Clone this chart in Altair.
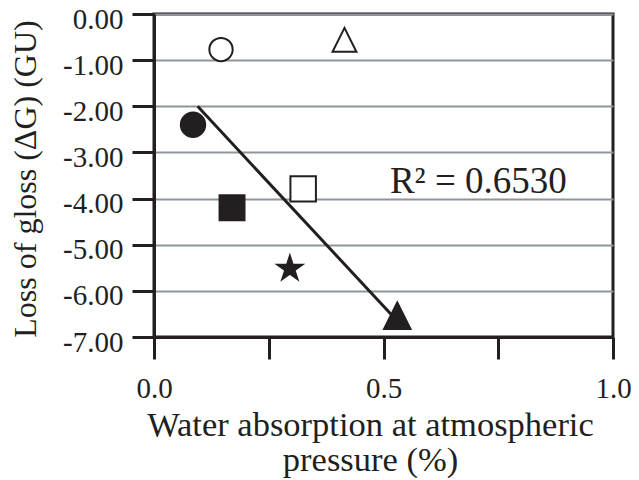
import altair as alt
import pandas as pd

# ---- data ----
markers = ["open circle", "open triangle", "filled circle", "filled square",
           "open square", "star", "filled triangle"]
absorption = [0.146, 0.415, 0.085, 0.170, 0.325, 0.296, 0.530]
gloss_loss = [-0.77, -0.56, -2.40, -4.20, -3.79, -5.52, -6.54]

fit_x = [0.095, 0.525]
fit_y = [-2.00, -6.60]

r2_label = ["R² = 0.6530"]
r2_x = [0.514]
r2_y = [-3.873]

x_ticks = [0.0, 0.25, 0.5, 0.75, 1.0]
y_ticks = [0, -1, -2, -3, -4, -5, -6, -7]

# ---- styles ----
INK = "#231f20"
GRID = "#8f9699"
FONT = "Liberation Serif"

TRI = "M0,-1L1,1L-1,1Z"
STAR = ("M0,-1L0.225,-0.309L0.951,-0.309L0.363,0.118L0.588,0.809L0,0.382"
        "L-0.588,0.809L-0.363,0.118L-0.951,-0.309L-0.225,-0.309Z")
shape_range = ["circle", TRI, "circle", "square", "square", STAR, TRI]
fill_range = ["white", "white", INK, INK, "white", INK, INK]
size_range = [543, 702, 603, 767, 640, 930, 784]
sw_range = [2, 2, 0, 0, 2, 0, 0]

pts = pd.DataFrame({"marker": markers, "x": absorption, "y": gloss_loss})
fit = pd.DataFrame({"x": fit_x, "y": fit_y})
r2 = pd.DataFrame({"label": r2_label, "x": r2_x, "y": r2_y})

xs = alt.Scale(domain=[0, 1], nice=False, zero=False)
ys = alt.Scale(domain=[-7, 0], nice=False, zero=False)

x_axis = alt.Axis(
    values=x_ticks,
    labelExpr="datum.value == 0.25 || datum.value == 0.75 ? '' : format(datum.value, '.1f')",
    title=["Water absorption at atmospheric", "pressure (%)"],
    grid=False,
    labelBaseline="alphabetic", labelPadding=38,
    titleFontSize=34.5,
    titleX=216, titleY=98, titleBaseline="alphabetic", titleAlign="center",
    titleLineHeight=35,
)
y_axis = alt.Axis(
    values=y_ticks,
    labelExpr="datum.value < 0 ? '-' + format(-datum.value, '.2f') : format(datum.value, '.2f')",
    title="Loss of gloss (ΔG) (GU)",
    grid=True, gridColor=GRID, gridWidth=2,
    labelBaseline="alphabetic", labelOffset=14, labelPadding=9,
    titleFontSize=32,
    titleAngle=270, titleX=-119, titleY=164.5, titleBaseline="alphabetic",
    titleAlign="center",
)

line = alt.Chart(fit).mark_line(color=INK, strokeWidth=3).encode(
    x=alt.X("x:Q", scale=xs, axis=x_axis),
    y=alt.Y("y:Q", scale=ys, axis=y_axis),
)

points = alt.Chart(pts).mark_point(filled=False, stroke=INK, opacity=1).encode(
    x=alt.X("x:Q", scale=xs, axis=x_axis),
    y=alt.Y("y:Q", scale=ys, axis=y_axis),
    shape=alt.Shape("marker:N", scale=alt.Scale(domain=markers, range=shape_range), legend=None),
    fill=alt.Fill("marker:N", scale=alt.Scale(domain=markers, range=fill_range), legend=None),
    size=alt.Size("marker:N", scale=alt.Scale(domain=markers, range=size_range), legend=None),
    strokeWidth=alt.StrokeWidth("marker:N", scale=alt.Scale(domain=markers, range=sw_range), legend=None),
)

text = alt.Chart(r2).mark_text(
    font=FONT, fontSize=37, color=INK, align="left", baseline="alphabetic"
).encode(
    x=alt.X("x:Q", scale=xs, axis=x_axis),
    y=alt.Y("y:Q", scale=ys, axis=y_axis),
    text="label:N",
)

chart = alt.layer(line, points, text).properties(
    width=459, height=323,
    padding={"left": 154, "top": 14, "right": 26, "bottom": 143},
    autosize="none",
    background="white",
).configure_view(stroke=INK, strokeWidth=3).configure_axis(
    labelFont=FONT, labelFontSize=29, labelColor=INK,
    labelFlush=False, labelOverlap=False,
    titleFont=FONT, titleFontWeight="normal", titleColor=INK,
    tickSize=22, tickWidth=3, tickColor=INK,
    domainColor=INK, domainWidth=3,
).resolve_scale(
    shape="independent", fill="independent", size="independent", strokeWidth="independent"
)

chart.save("out.html", embed_options={"renderer": "svg", "actions": False})
